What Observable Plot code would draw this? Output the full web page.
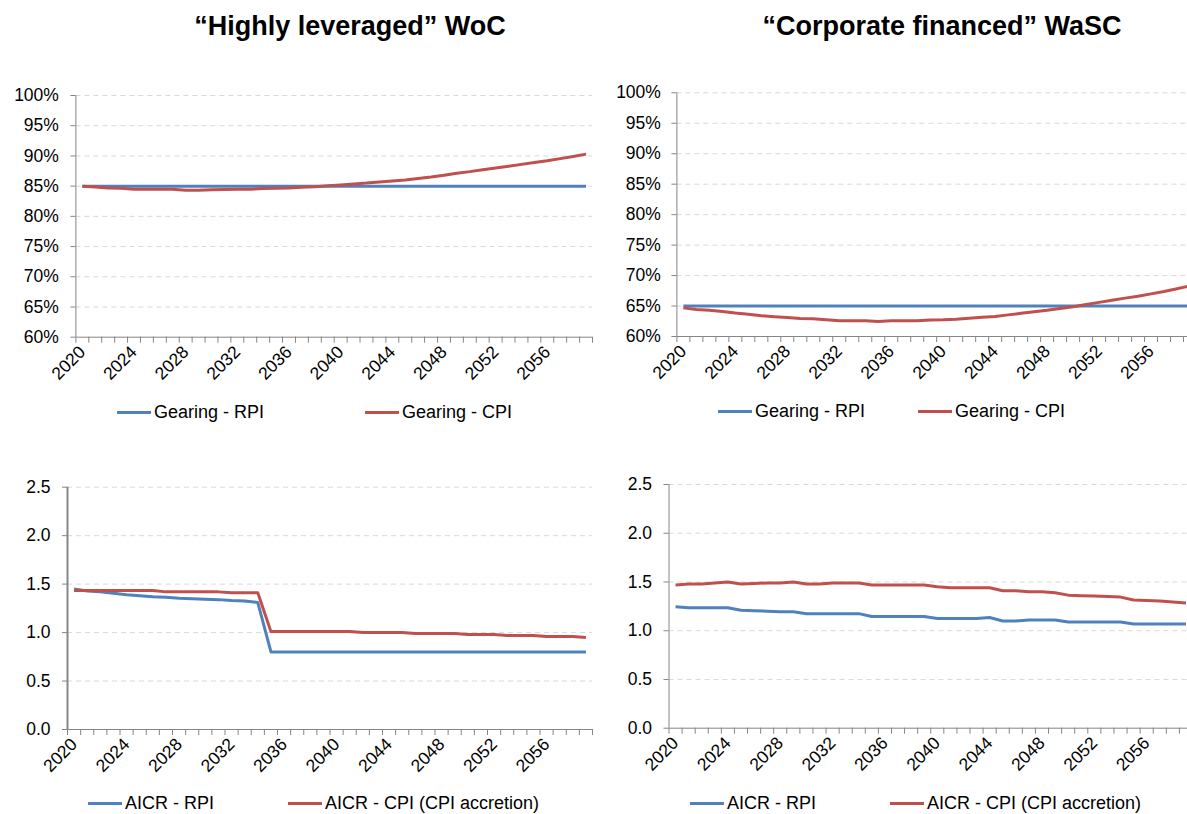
<!DOCTYPE html>
<html><head><meta charset="utf-8">
<script src="https://cdn.jsdelivr.net/npm/d3@7"></script>
<script src="https://cdn.jsdelivr.net/npm/@observablehq/plot@0.6"></script>
<style>
html,body{margin:0;padding:0;background:#fff;}
#root{position:relative;width:1187px;height:814px;overflow:hidden;font-family:"Liberation Sans",Arial,sans-serif;color:#000;}
.panel{position:absolute;}
.title{position:absolute;font-weight:bold;font-size:27px;line-height:27px;white-space:nowrap;transform:translateX(-50%);}
.legend{position:absolute;height:20px;font-size:18px;line-height:20px;white-space:nowrap;display:flex;align-items:center;}
.swatch{display:inline-block;width:34px;height:3px;margin-right:3px;}
</style></head><body><div id="root"></div>
<script>
const years = [2020,2021,2022,2023,2024,2025,2026,2027,2028,2029,2030,2031,2032,2033,2034,2035,2036,2037,2038,2039,
               2040,2041,2042,2043,2044,2045,2046,2047,2048,2049,2050,2051,2052,2053,2054,2055,2056,2057,2058,2059];
const xLabelYears = [2020,2024,2028,2032,2036,2040,2044,2048,2052,2056];
const gearingTicks = [60,65,70,75,80,85,90,95,100];
const aicrTicks = [0,0.5,1.0,1.5,2.0,2.5];

const titles = ["\u201cHighly leveraged\u201d WoC", "\u201cCorporate financed\u201d WaSC"];
const gearingNames = ["Gearing - RPI", "Gearing - CPI"];
const aicrNames = ["AICR - RPI", "AICR - CPI (CPI accretion)"];
const seriesColors = ["#4F81BD", "#C0504D"];

// "Highly leveraged" WoC — gearing (%)
const wocGearingRPI = [85,85,85,85,85,85,85,85,85,85,85,85,85,85,85,85,85,85,85,85,
                       85,85,85,85,85,85,85,85,85,85,85,85,85,85,85,85,85,85,85,85];
const wocGearingCPI = [85.0,84.85,84.7,84.65,84.5,84.5,84.5,84.5,84.3,84.3,84.4,84.45,84.5,84.5,84.6,84.65,84.7,84.8,84.9,85.05,
                       85.2,85.35,85.5,85.7,85.85,86.0,86.25,86.5,86.8,87.15,87.4,87.7,88.0,88.3,88.6,88.9,89.2,89.55,89.9,90.3];
// "Corporate financed" WaSC — gearing (%)
const wascGearingRPI = [65,65,65,65,65,65,65,65,65,65,65,65,65,65,65,65,65,65,65,65,
                        65,65,65,65,65,65,65,65,65,65,65,65,65,65,65,65,65,65,65,65];
const wascGearingCPI = [64.7,64.45,64.3,64.1,63.85,63.65,63.4,63.25,63.1,62.95,62.9,62.75,62.6,62.6,62.6,62.45,62.6,62.6,62.6,62.7,
                        62.75,62.85,63.0,63.15,63.3,63.55,63.8,64.05,64.3,64.6,64.9,65.25,65.6,65.95,66.3,66.6,67.0,67.4,67.85,68.3];
// AICR
const wocAicrRPI = [1.45,1.43,1.42,1.405,1.39,1.38,1.37,1.365,1.355,1.35,1.345,1.34,1.33,1.325,1.31,0.80,0.80,0.80,0.80,0.80,
                    0.80,0.80,0.80,0.80,0.80,0.80,0.80,0.80,0.80,0.80,0.80,0.80,0.80,0.80,0.80,0.80,0.80,0.80,0.80,0.80];
const wocAicrCPI = [1.435,1.435,1.435,1.435,1.435,1.435,1.435,1.42,1.42,1.42,1.42,1.42,1.41,1.41,1.41,1.01,1.01,1.01,1.01,1.01,
                    1.01,1.01,1.00,1.00,1.00,1.00,0.99,0.99,0.99,0.99,0.98,0.98,0.98,0.97,0.97,0.97,0.96,0.96,0.96,0.95];
const wascAicrRPI = [1.245,1.235,1.235,1.235,1.235,1.21,1.205,1.20,1.195,1.195,1.175,1.175,1.175,1.175,1.175,1.145,1.145,1.145,1.145,1.145,
                     1.125,1.125,1.125,1.125,1.135,1.10,1.10,1.11,1.11,1.11,1.09,1.09,1.09,1.09,1.09,1.07,1.07,1.07,1.07,1.07];
const wascAicrCPI = [1.47,1.48,1.48,1.49,1.50,1.48,1.485,1.49,1.49,1.50,1.48,1.48,1.49,1.49,1.49,1.47,1.47,1.47,1.47,1.47,
                     1.45,1.44,1.44,1.44,1.44,1.41,1.41,1.40,1.40,1.39,1.365,1.36,1.355,1.35,1.345,1.315,1.31,1.305,1.295,1.285];

const root = document.getElementById("root");
const FONT = '"Liberation Sans", Arial, sans-serif';
const AXIS = "#868686";

function makePanel(o) {
  const rows = [];
  o.series.forEach((vals, k) => vals.forEach((v, i) => rows.push({year: years[i], value: v, name: o.names[k]})));
  const boundaries = years.map(y => y - 0.5).concat([years[years.length - 1] + 0.5]);
  const x0 = years[0] - 0.5, x1 = years[years.length - 1] + 0.5;
  const chart = Plot.plot({
    width: o.width, height: o.height,
    marginLeft: o.ml, marginRight: o.mr, marginTop: o.mt, marginBottom: o.mb,
    style: {fontFamily: FONT, fontSize: "17.5px", color: "#000", background: "transparent", overflow: "visible"},
    x: {type: "linear", domain: [x0, x1]},
    y: {domain: o.yDomain},
    color: {domain: o.names, range: seriesColors},
    marks: [
      Plot.ruleY(o.yTicks.slice(1), {stroke: "#d9d9d9", strokeDasharray: "5,4", strokeWidth: 1}),
      Plot.axisY({ticks: o.yTicks, tickFormat: o.yFmt, tickSize: 5, tickPadding: o.yPad, stroke: AXIS, fill: "#000", label: null}),
      Plot.axisX({ticks: boundaries, tickSize: 6, tickFormat: () => "", stroke: AXIS, label: null}),
      Plot.axisX({ticks: xLabelYears, tickSize: 0, tickPadding: 12, tickRotate: -45, tickFormat: d => String(d), fill: "#000", label: null}),
      Plot.ruleY([o.yDomain[0]], {stroke: AXIS, strokeWidth: 1}),
      Plot.ruleX([x0], {stroke: AXIS, strokeWidth: o.yAxisWidth}),
      Plot.lineY(rows, {x: "year", y: "value", z: "name", stroke: "name", strokeWidth: 3, strokeLinejoin: "round", strokeLinecap: "butt"})
    ]
  });
  chart.classList.add("panel");
  chart.style.left = o.left + "px";
  chart.style.top = o.top + "px";
  root.appendChild(chart);
}

function makeLegend(items) {
  items.forEach(it => {
    const d = document.createElement("div");
    d.className = "legend";
    d.style.left = it.x + "px";
    d.style.top = (it.y - 10) + "px";
    const sw = document.createElement("span");
    sw.className = "swatch";
    sw.style.background = it.color;
    d.appendChild(sw);
    d.appendChild(document.createTextNode(it.text));
    root.appendChild(d);
  });
}

function makeTitle(text, cx, top) {
  const d = document.createElement("div");
  d.className = "title";
  d.style.left = cx + "px";
  d.style.top = top + "px";
  d.textContent = text;
  root.appendChild(d);
}

const pct = d => d + "%";
const dec = d => d.toFixed(1);

makeTitle(titles[0], 350, 13);
makeTitle(titles[1], 942, 13);

makePanel({left: 0, top: 80, width: 600, height: 300, ml: 75.4, mr: 8, mt: 15, mb: 43.3, yPad: 12,
  yDomain: [60, 100], yTicks: gearingTicks, yFmt: pct, series: [wocGearingRPI, wocGearingCPI], names: gearingNames, yAxisWidth: 1});
makePanel({left: 600, top: 80, width: 600, height: 300, ml: 76.4, mr: 4, mt: 12.3, mb: 44, yPad: 11,
  yDomain: [60, 100], yTicks: gearingTicks, yFmt: pct, series: [wascGearingRPI, wascGearingCPI], names: gearingNames, yAxisWidth: 1});
makePanel({left: 0, top: 470, width: 600, height: 300, ml: 67, mr: 8, mt: 16.7, mb: 41, yPad: 12,
  yDomain: [0, 2.5], yTicks: aicrTicks, yFmt: dec, series: [wocAicrRPI, wocAicrCPI], names: aicrNames, yAxisWidth: 2});
makePanel({left: 600, top: 470, width: 600, height: 300, ml: 68.5, mr: 8, mt: 14, mb: 42.3, yPad: 12,
  yDomain: [0, 2.5], yTicks: aicrTicks, yFmt: dec, series: [wascAicrRPI, wascAicrCPI], names: aicrNames, yAxisWidth: 1});

makeLegend([
  {x: 117, y: 412, color: seriesColors[0], text: gearingNames[0]},
  {x: 365, y: 412, color: seriesColors[1], text: gearingNames[1]},
  {x: 718, y: 411, color: seriesColors[0], text: gearingNames[0]},
  {x: 918, y: 411, color: seriesColors[1], text: gearingNames[1]},
  {x: 88, y: 803, color: seriesColors[0], text: aicrNames[0]},
  {x: 288, y: 803, color: seriesColors[1], text: aicrNames[1]},
  {x: 690, y: 803, color: seriesColors[0], text: aicrNames[0]},
  {x: 890, y: 803, color: seriesColors[1], text: aicrNames[1]}
]);
</script>
</body></html>
